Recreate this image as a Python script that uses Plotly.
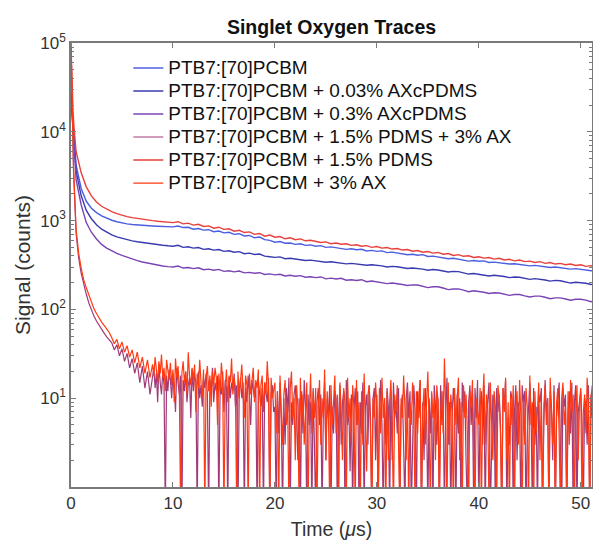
import plotly.graph_objects as go

# ---------------- data ----------------
names = [
    "PTB7:[70]PCBM",
    "PTB7:[70]PCBM + 0.03% AXcPDMS",
    "PTB7:[70]PCBM + 0.3% AXcPDMS",
    "PTB7:[70]PCBM + 1.5% PDMS + 3% AX",
    "PTB7:[70]PCBM + 1.5% PDMS",
    "PTB7:[70]PCBM + 3% AX",
]
colors = ["#4b5fe0", "#3a3ab0", "#7a44b4", "#a03a78", "#e8403c", "#ff3a12"]

# sample times for the slowly decaying traces (us): 0, 0.1, 0.2, 0.3, then every 0.5 us
t_upper_early = [0, 0.1, 0.2, 0.3]
t_upper_step = 0.5

pcbm = [30000, 17000, 12500, 9000,
        4200, 2300, 1650, 1380, 1230, 1130, 1060, 1010, 970, 940, 920, 905, 893, 884, 876, 870, 864, 858, 854,
        850, 868, 835, 842, 800, 815, 782, 790, 750, 764, 728, 738, 700, 712, 672, 680,
        640, 652, 610, 598, 570, 582, 556, 560, 540, 548, 526, 532, 515, 522, 500, 506,
        495, 488, 474, 482, 470, 476, 455, 462, 450, 456, 436, 442, 430, 422, 412, 418,
        408, 414, 394, 398, 388, 380, 372, 376, 368, 360, 350, 355, 348, 352, 338, 341,
        335, 330, 324, 327, 322, 315, 309, 313, 308, 303, 296, 300, 296, 290, 284, 288,
        284, 279, 272, 277, 275]

ax003 = [26000, 15000, 11000, 8000,
         3600, 1900, 1300, 1050, 900, 800, 735, 690, 655, 630, 610, 592, 578, 566, 555, 545, 535, 527, 520,
         515, 528, 500, 508, 490, 498, 474, 482, 465, 472, 450, 458, 440, 447, 424, 430,
         415, 420, 398, 392, 385, 390, 372, 376, 368, 362, 355, 359, 352, 346, 340, 344,
         338, 332, 326, 330, 326, 320, 314, 318, 315, 309, 300, 305, 302, 296, 289, 293,
         290, 284, 276, 281, 278, 270, 264, 268, 266, 258, 250, 254, 250, 245, 238, 242,
         240, 235, 228, 232, 230, 225, 218, 222, 220, 214, 208, 212, 210, 205, 198, 202,
         200, 197, 191, 195, 195]

ax03 = [24000, 14000, 10000, 7000,
        2900, 1500, 950, 740, 620, 540, 490, 455, 428, 405, 385, 368, 354, 342, 332, 323, 315, 308, 303,
        300, 308, 292, 296, 288, 294, 280, 284, 276, 282, 268, 272, 265, 270, 258, 261,
        255, 259, 247, 251, 245, 249, 238, 242, 236, 240, 230, 233, 228, 232, 221, 225,
        220, 224, 213, 216, 212, 216, 205, 209, 205, 200, 195, 198, 196, 191, 186, 189,
        188, 182, 176, 180, 180, 174, 167, 170, 170, 165, 158, 162, 160, 156, 151, 154,
        153, 149, 144, 147, 147, 142, 138, 141, 141, 137, 132, 135, 135, 131, 127, 130,
        130, 127, 122, 125, 125]

pdms = [90000, 35000, 17000, 11000,
        6000, 3450, 2400, 1900, 1620, 1450, 1340, 1260, 1200, 1150, 1110, 1080, 1055, 1035, 1015, 1000, 985, 972, 960,
        950, 972, 918, 936, 890, 908, 858, 872, 820, 842, 796, 808, 760, 778, 734, 746,
        700, 716, 668, 688, 650, 662, 624, 640, 610, 622, 592, 601, 580, 566, 576, 550,
        560, 541, 548, 526, 535, 514, 522, 500, 510, 490, 498, 478, 485, 466, 473, 452,
        460, 441, 449, 430, 438, 418, 426, 405, 414, 396, 402, 385, 392, 378, 384, 368,
        376, 360, 367, 352, 360, 345, 350, 338, 345, 330, 337, 324, 330, 318, 324, 312,
        318, 305, 311, 300, 306]

# sample times for the quenched traces (us): listed up to 7.75, then every 0.125 us from 8
t_lower_early = [0, 0.1, 0.25, 0.5, 0.75, 1, 1.25, 1.5, 1.75, 2, 2.25, 2.5, 2.75, 3, 3.25, 3.5, 3.75,
                 4, 4.25, 4.5, 4.75, 5, 5.25, 5.5, 5.75, 6, 6.25, 6.5, 6.75, 7, 7.25, 7.5, 7.75]
t_lower_start = 8.0
t_lower_step = 0.125

pdms_ax = [100000, 28000, 3500, 720, 380, 255, 190, 148, 118, 98, 84, 74, 66, 59, 54, 49, 45,
           42, 35, 40, 30, 36, 26, 32, 22, 28, 19, 25, 15, 23, 13, 20, 11,
           17, 22, 13, 19, 9, 24, 15, 11, 20, 14, 0.5, 18, 12, 21, 16, 10,
           19, 13, 7, 22, 15, 11, 18, 0.5, 16, 12, 20, 9, 14, 17, 6, 21,
           12, 18, 15, 0.5, 20, 10, 14, 8, 17, 13, 19, 11, 0.5, 16, 12, 22,
           9, 15, 12, 18, 0.5, 14, 11, 20, 7, 16, 13, 0.5, 17, 10, 15, 12,
           19, 8, 14, 0.5, 12, 17, 10, 15, 0.5, 13, 9, 18, 11, 5, 16, 12,
           10, 14, 0.5, 16, 11, 8, 13, 0.5, 15, 12, 9, 17, 0.5, 11, 14, 7,
           8, 0.5, 12, 4, 15, 6, 0.5, 10, 3, 13, 7, 17, 0.5, 9, 5, 11,
           14, 6, 2, 10, 0.5, 12, 4, 16, 8, 0.5, 11, 5, 9, 0.5, 13, 3,
           0.5, 9, 13, 5, 11, 0.5, 7, 15, 2, 10, 6, 14, 0.5, 8, 4, 12,
           10, 0.5, 6, 14, 3, 9, 12, 0.5, 16, 5, 8, 1.5, 11, 0.5, 7, 13,
           5, 12, 0.5, 9, 4, 15, 0.5, 8, 11, 3, 14, 6, 0.5, 10, 13, 2,
           11, 0.5, 7, 16, 5, 0.5, 10, 3, 13, 8, 0.5, 12, 2, 15, 6, 9,
           4, 13, 0.5, 8, 11, 3, 0.5, 10, 15, 6, 12, 0.5, 5, 14, 7, 0.5,
           12, 6, 16, 0.5, 9, 2, 13, 7, 0.5, 10, 4, 11, 0.5, 14, 8, 3,
           10, 0.5, 14, 5, 12, 0.5, 7, 17, 3, 9, 0.5, 6, 13, 8, 0.5, 11,
           4, 10, 0.5, 15, 7, 12, 2, 0.5, 9, 14, 5, 11, 0.5, 13, 6, 16,
           0.5, 8, 12, 3, 14, 0.5, 6, 10, 15, 0.5, 4, 11, 9, 0.5, 13, 7,
           11, 5, 0.5, 13, 8, 16, 0.5, 6, 3, 12, 10, 0.5, 7, 14, 2, 9,
           6, 0.5, 14, 9, 12, 0.5, 4, 10, 15, 7, 0.5, 13, 3, 8, 0.5, 11,
           9, 13, 0.5, 5, 16, 7, 10, 0.5, 12, 8, 2, 14, 0.5, 6, 11, 15,
           3, 0.5, 13, 8, 11, 0.5, 6, 12, 4, 15, 0.5, 9, 14, 0.5, 7, 10,
           12, 5, 0.5, 10, 8, 3, 14, 0.5, 11, 6, 15, 0.5, 9, 13, 4, 10]

ax3 = [100000, 30000, 4000, 800, 430, 290, 215, 175, 145, 118, 102, 90, 80, 72, 66, 60, 55,
       48, 41, 46, 36, 43, 33, 39, 29, 35, 25, 33, 22, 29, 19, 27, 17,
       24, 18, 29, 21, 15, 26, 19, 31, 17, 22, 12, 27, 20, 16, 25, 14,
       21, 9, 28, 17, 23, 13, 0.5, 19, 26, 15, 20, 11, 33, 18, 14, 22,
       16, 24, 7, 19, 13, 27, 15, 10, 21, 0.5, 17, 23, 12, 18, 8, 20,
       14, 22, 17, 5, 19, 12, 25, 16, 0.5, 13, 21, 9, 18, 15, 28, 11,
       17, 13, 0.5, 20, 10, 16, 24, 12, 6, 18, 14, 0.5, 19, 11, 15, 22,
       9, 16, 13, 21, 0.5, 14, 18, 7, 15, 11, 26, 13, 0.5, 17, 10, 12,
       15, 4, 12, 0.5, 18, 7, 3, 11, 16, 5, 9, 0.5, 13, 20, 6, 10,
       2, 14, 8, 0.5, 17, 5, 11, 3, 9, 15, 0.5, 7, 19, 4, 12, 6,
       13, 0.5, 8, 16, 3, 10, 6, 21, 2, 12, 7, 0.5, 14, 5, 9, 18,
       4, 11, 0.5, 15, 7, 2, 13, 9, 0.5, 17, 6, 10, 3, 14, 8, 0.5,
       16, 5, 9, 0.5, 12, 3, 19, 7, 1.5, 11, 14, 4, 0.5, 10, 6, 15,
       8, 0.5, 13, 4, 17, 6, 10, 0.5, 12, 2, 9, 16, 5, 0.5, 11, 7,
       14, 3, 0.5, 10, 6, 18, 8, 2, 13, 0.5, 9, 5, 15, 7, 0.5, 12,
       4, 11, 16, 0.5, 7, 13, 3, 9, 20, 5, 0.5, 12, 6, 10, 2, 14,
       9, 0.5, 6, 12, 4, 28, 8, 0.5, 15, 3, 11, 7, 0.5, 13, 5, 10,
       17, 2, 9, 0.5, 14, 6, 11, 4, 0.5, 12, 8, 16, 3, 0.5, 10, 7,
       5, 13, 0.5, 9, 19, 3, 11, 7, 0.5, 15, 6, 2, 12, 8, 0.5, 14,
       10, 4, 0.5, 13, 7, 17, 2, 9, 0.5, 11, 5, 14, 0.5, 8, 12, 3,
       16, 6, 0.5, 10, 3, 13, 8, 0.5, 18, 5, 9, 0.5, 12, 4, 7, 15,
       2, 11, 0.5, 8, 14, 5, 10, 0.5, 17, 6, 3, 12, 0.5, 9, 13, 4,
       0.5, 10, 15, 5, 8, 0.5, 12, 3, 16, 7, 11, 0.5, 6, 14, 2, 9,
       13, 0.5, 7, 11, 4, 17, 8, 0.5, 10, 14, 3, 0.5, 12, 6, 9, 5]

x_ticks = [0, 10, 20, 30, 40, 50]
y_ticks = [10, 100, 1000, 10000, 100000]
y_ticktext = ["10<sup>1</sup>", "10<sup>2</sup>", "10<sup>3</sup>", "10<sup>4</sup>", "10<sup>5</sup>"]
y_minor = [m * 10 ** e for e in range(0, 5) for m in range(2, 10)]


def upper_times(n):
    k = len(t_upper_early)
    return t_upper_early + [t_upper_step * i for i in range(1, n - k + 1)]


def lower_times(n):
    k = len(t_lower_early)
    return t_lower_early + [t_lower_start + t_lower_step * i for i in range(n - k)]


series = [
    (pcbm, upper_times, 1.4),
    (ax003, upper_times, 1.4),
    (ax03, upper_times, 1.4),
    (pdms_ax, lower_times, 1.2),
    (pdms, upper_times, 1.4),
    (ax3, lower_times, 1.2),
]

fig = go.Figure()
for (vals, tf, w), name, col in zip(series, names, colors):
    fig.add_trace(go.Scatter(
        x=tf(len(vals)), y=vals, mode="lines",
        name='<span style="font-size:19px">' + name + "</span>",
        line=dict(color=col, width=w),
    ))

font_family = "Liberation Sans, Arial, sans-serif"
axis_col = "#7a7a7a"
text_col = "#333333"

fig.update_layout(
    width=593, height=542,
    margin=dict(l=71, r=1, t=43, b=55),
    paper_bgcolor="white", plot_bgcolor="white",
    font=dict(family=font_family, color=text_col, size=17),
    title=dict(text="<b>Singlet Oxygen Traces</b>", x=0.5, xref="paper",
               xanchor="center", y=1 - 27 / 542, yanchor="middle",
               font=dict(size=19.5, color="#111111", family=font_family)),
    showlegend=True,
    legend=dict(x=0.11, y=0.981, xanchor="left", yanchor="top",
                bgcolor="rgba(0,0,0,0)", borderwidth=0,
                font=dict(size=15.4, color="#111111", family=font_family),
                tracegroupgap=0),
)

fig.update_xaxes(
    range=[0, 51.1], tickvals=x_ticks, ticks="inside", ticklen=5,
    tickcolor=axis_col, showline=True, linecolor=axis_col, linewidth=1.5,
    mirror="ticks", showgrid=False, zeroline=False, automargin=False,
    tickfont=dict(size=17, color=text_col),
    title=dict(text="Time (<i>\u03bc</i>s)", font=dict(size=19.5, color=text_col), standoff=10),
)
fig.update_yaxes(
    type="log", range=[0, 5], tickvals=y_ticks, ticktext=y_ticktext,
    ticks="inside", ticklen=5, tickcolor=axis_col,
    showline=True, linecolor=axis_col, linewidth=1.5, mirror="ticks",
    showgrid=False, zeroline=False, automargin=False,
    minor=dict(ticks="inside", ticklen=3, tickcolor=axis_col, tickvals=y_minor, showgrid=False),
    tickfont=dict(size=17, color=text_col),
    title=dict(text="Signal (counts)", font=dict(size=21, color=text_col), standoff=4),
)

fig.write_html("out.html", config={"displayModeBar": False},
               post_script="document.body.style.margin='0px';")
